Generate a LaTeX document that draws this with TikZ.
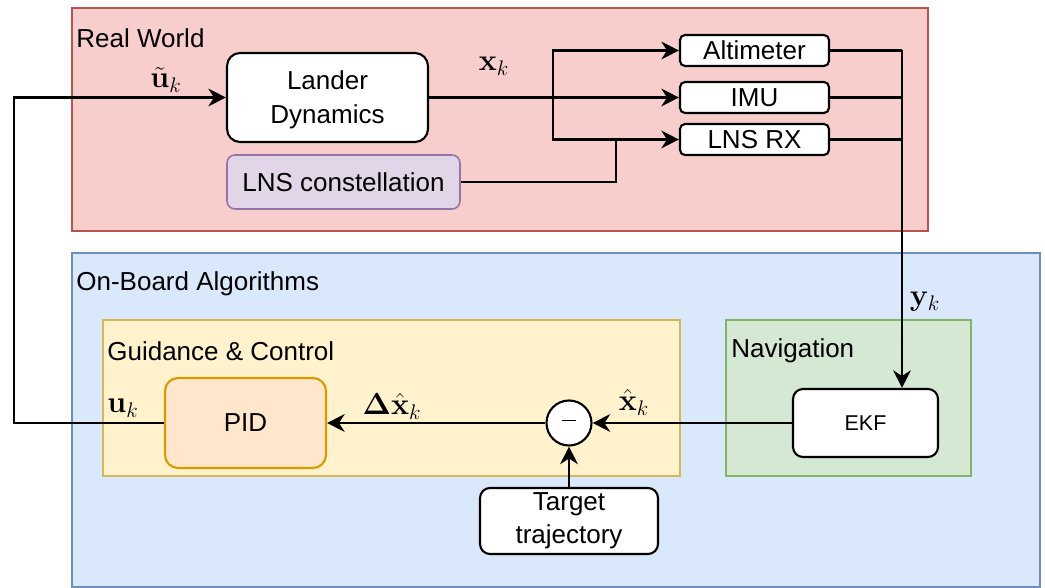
\documentclass[tikz,border=0pt]{standalone}
\usepackage[no-math]{fontspec}
\setmainfont{Liberation Sans}
\usetikzlibrary{arrows.meta}
\definecolor{rwfill}{HTML}{F8CECC}\definecolor{rwline}{HTML}{B85450}
\definecolor{obfill}{HTML}{DAE8FC}\definecolor{obline}{HTML}{6C8EBF}
\definecolor{gcfill}{HTML}{FFF2CC}\definecolor{gcline}{HTML}{D6B656}
\definecolor{nvfill}{HTML}{D5E8D4}\definecolor{nvline}{HTML}{82B366}
\definecolor{pufill}{HTML}{E1D5E7}\definecolor{puline}{HTML}{9673A6}
\definecolor{orfill}{HTML}{FFE6CC}\definecolor{orline}{HTML}{D79B00}
\tikzset{
  txt/.style={font=\fontsize{14.8}{17}\selectfont},
  container/.style={draw, line width=0.9pt, inner sep=0pt},
  grouplabel/.style={txt, anchor=west, inner sep=0pt},
  block/.style={draw, line width=1.2pt, fill=white, inner sep=0pt, align=center, txt},
  wire/.style={line width=1.25pt},
  arr/.style={wire, -{Stealth[length=10pt,width=10pt,inset=3.2pt]}},
  mathlbl/.style={inner sep=0pt, font=\fontsize{17.5}{20}\selectfont},
}
\begin{document}
\begin{tikzpicture}[x=0.02cm, y=-0.02cm]
\useasboundingbox (0,0) rectangle (1045,588);
% containers
\node[container, fill=rwfill, draw=rwline, minimum width=17.12cm, minimum height=4.46cm] (rw) at (500,119.5) {};
\node[container, fill=obfill, draw=obline, minimum width=19.36cm, minimum height=6.68cm] (ob) at (556,420) {};
\node[container, fill=gcfill, draw=gcline, minimum width=11.54cm, minimum height=3.12cm] (gc) at (391.5,398) {};
\node[container, fill=nvfill, draw=nvline, minimum width=4.90cm, minimum height=3.12cm] (nv) at (848.5,398) {};
\node[grouplabel] (rwl) at (76,38) {Real World};
\node[grouplabel] (obl) at (76,284) {On-Board Algorithms};
\node[grouplabel] (gcl) at (107,351) {Guidance \& Control};
\node[grouplabel] (nvl) at (731,351) {Navigation};
% blocks
\node[block, rounded corners=0.26cm, minimum width=4.02cm, minimum height=1.78cm] (lander) at (327.5,97.5) {\rule{0pt}{13.5pt}Lander\\[2pt]Dynamics};
\node[block, fill=pufill, draw=puline, line width=0.9pt, rounded corners=0.16cm, minimum width=4.66cm, minimum height=1.08cm] (lnsc) at (343.5,182) {LNS constellation};
\node[block, rounded corners=0.1cm, minimum width=2.98cm, minimum height=0.62cm] (alt) at (754.5,50.5) {Altimeter};
\node[block, rounded corners=0.1cm, minimum width=2.98cm, minimum height=0.62cm] (imu) at (754.5,97.5) {IMU};
\node[block, rounded corners=0.1cm, minimum width=2.98cm, minimum height=0.62cm] (lnsrx) at (754.5,139.5) {LNS RX};
\node[block, fill=orfill, draw=orline, rounded corners=0.26cm, minimum width=3.22cm, minimum height=1.80cm] (pid) at (245.5,423) {PID};
\node[block, rounded corners=0.2cm, minimum width=2.90cm, minimum height=1.36cm, font=\fontsize{12.2}{14}\selectfont] (ekf) at (865.5,423) {EKF};
\node[block, circle, minimum size=0.9cm] (sum) at (569,423) {\raisebox{3pt}{\rule{8.5pt}{0.9pt}}};
\node[block, rounded corners=0.2cm, minimum width=3.56cm, minimum height=1.32cm] (target) at (569,521) {Target\\[2pt]trajectory};
% coordinates
\coordinate (br) at (553,97.5);
\coordinate (join) at (616,139.5);
\coordinate (col) at (902,50.5);
\coordinate (fb) at (14,423);
% connectors
\draw[arr] (lander.east) -- (imu.west);
\draw[arr] (br) |- (alt.west);
\draw[arr] (br) |- (lnsrx.west);
\draw[wire] (lnsc.east) -| (join);
\draw[wire] (alt.east) -- (col);
\draw[wire] (imu.east) -- (imu.east -| col);
\draw[wire] (lnsrx.east) -- (lnsrx.east -| col);
\draw[arr] (col) -- (col |- ekf.north);
\draw[arr] (ekf.west) -- (sum.east);
\draw[arr] (sum.west) -- (pid.east);
\draw[arr] (target.north) -- (sum.south);
\draw[arr] (pid.west) -- (fb) |- (lander.west);
% math labels
\node[mathlbl] (lu) at (166,80) {$\tilde{\mathbf{u}}_k$};
\node[mathlbl] (lx) at (494,66) {$\mathbf{x}_k$};
\node[mathlbl] (ly) at (925,302) {$\mathbf{y}_k$};
\node[mathlbl] (lxh) at (634,402) {$\hat{\mathbf{x}}_k$};
\node[mathlbl] (ldx) at (392,406) {$\mathbf{\Delta}\hat{\mathbf{x}}_k$};
\node[mathlbl] (luk) at (123,408) {$\mathbf{u}_k$};
\end{tikzpicture}
\end{document}
